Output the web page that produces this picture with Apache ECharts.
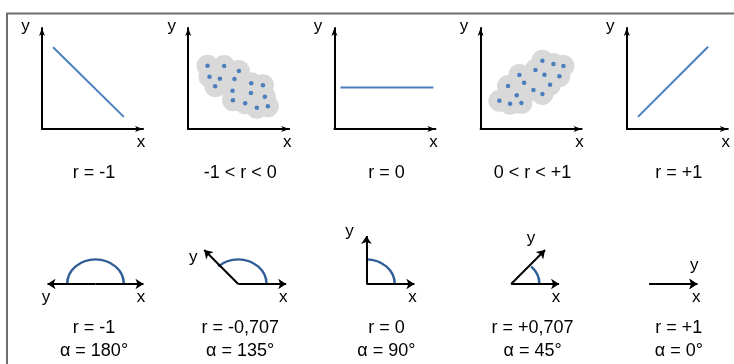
<!DOCTYPE html>
<html><head><meta charset="utf-8">
<script src="https://cdn.jsdelivr.net/npm/echarts@6/dist/echarts.min.js"></script>
<style>html,body{margin:0;padding:0;background:#fff}#c{width:734px;height:364px}</style>
</head><body><div id="c"></div>
<script>
// ---------- data ----------
// top row: scatter diagrams (x,y in 0..10 units)
const topCaptions = ['r = -1', '-1 < r < 0', 'r = 0', '0 < r < +1', 'r = +1'];
const lineNeg  = [[1.1, 8.1], [8.1, 1.2]];
const lineZero = [[0.6, 4.1], [9.8, 4.1]];
const linePos  = [[1.1, 1.2], [8.05, 8.15]];
const cloudNeg = [[1.91,6.27],[3.56,6.24],[5.02,5.74],[2.11,5.18],[3.14,4.98],[4.58,4.95],[6.24,4.52],[7.40,4.32],
                  [2.67,4.23],[4.39,3.79],[6.21,3.56],[7.59,3.20],[4.43,2.84],[5.64,2.54],[6.80,2.11],[7.89,2.25]];
const cloudPos = [[6.12,6.76],[7.21,6.44],[8.20,6.24],[5.43,5.84],[6.32,5.38],[7.80,5.22],[3.84,5.35],[4.31,4.59],
                  [6.88,4.39],[2.72,4.26],[5.23,3.86],[6.12,3.47],[3.58,3.34],[1.86,2.80],[2.92,2.50],[4.04,2.57]];
// bottom row: vector diagrams
const angles = [180, 135, 90, 45, 0];
const rLabels = ['r = -1', 'r = -0,707', 'r = 0', 'r = +0,707', 'r = +1'];
const alphaLabels = ['α = 180°', 'α = 135°', 'α = 90°', 'α = 45°', 'α = 0°'];
const axisNames = ['x', 'y'];
const arcRadius = 0.59;

// ---------- layout / style ----------
const FONT = '"Liberation Sans", Arial, sans-serif';
const BLUE = '#4a7ebf';
const ARC = '#2f5e96';
const GRAY = '#d9d9d9';
const CLOUD_R = 11;
const centers = [0,1,2,3,4].map(i => 94 + i * 146.2);
const vOff = [1.5, -2, -20, -21.5, -29.5];          // vertex offset from caption centre
const botLbl = [ // [x-label dx, y-label dx, y-label y]
  [45.5, -49.5, 297.4], [45, -45, 257], [46, -17, 231], [45, 20, 238], [47, 45, 265.5]];
const UNIT = 48, VY = 284;

const grids = [], xAxes = [], yAxes = [], series = [], graphic = [];
const axLine = {show: true, symbol: ['none', 'arrow'], symbolSize: [4.5, 8], lineStyle: {color: '#000', width: 2}};
const hidden = {axisLine:{show:false}, axisTick:{show:false}, axisLabel:{show:false}, splitLine:{show:false}};

// top grids
centers.forEach((c, i) => {
  const left = c - 52;
  grids.push({left: left, top: 28, width: 101, height: 101});
  xAxes.push({gridIndex: i, type: 'value', min: 0, max: 10, axisLine: axLine, axisTick:{show:false}, axisLabel:{show:false}, splitLine:{show:false}});
  yAxes.push({gridIndex: i, type: 'value', min: 0, max: 10, axisLine: axLine, axisTick:{show:false}, axisLabel:{show:false}, splitLine:{show:false}});
  graphic.push({type:'text', x: left + 99, y: 142, style:{text: axisNames[0], font: '17px ' + FONT, fill:'#000', align:'center', verticalAlign:'middle'}});
  graphic.push({type:'text', x: left - 16.5, y: 26.6, style:{text: axisNames[1], font: '17px ' + FONT, fill:'#000', align:'center', verticalAlign:'middle'}});
  graphic.push({type:'text', x: c, y: 172.8, style:{text: topCaptions[i], font: '18px ' + FONT, fill:'#000', align:'center', verticalAlign:'middle'}});
});
const lineSeries = (data, idx) => ({type:'line', xAxisIndex: idx, yAxisIndex: idx, data: data, symbol:'none', silent:true,
  lineStyle:{color: BLUE, width: 2}});
series.push(lineSeries(lineNeg, 0), lineSeries(lineZero, 2), lineSeries(linePos, 4));
[[cloudNeg, 1], [cloudPos, 3]].forEach(([d, idx]) => {
  // grey cloud: union of circles around the points, drawn as one path
  series.push({type:'custom', coordinateSystem:'cartesian2d', xAxisIndex: idx, yAxisIndex: idx, silent:true, z: 1,
    data: [[d[0][0], d[0][1]]],
    renderItem: (params, api) => {
      let p = '', x0 = 1e9, y0 = 1e9, x1 = -1e9, y1 = -1e9;
      const R = CLOUD_R;
      d.forEach(v => {
        const c = api.coord(v);
        p += 'M' + (c[0] + R) + ' ' + c[1] + ' A' + R + ' ' + R + ' 0 1 0 ' + (c[0] - R) + ' ' + c[1] +
             ' A' + R + ' ' + R + ' 0 1 0 ' + (c[0] + R) + ' ' + c[1] + ' Z ';
        x0 = Math.min(x0, c[0] - R); y0 = Math.min(y0, c[1] - R);
        x1 = Math.max(x1, c[0] + R); y1 = Math.max(y1, c[1] + R);
      });
      return {type:'path', shape:{pathData: p, x: x0, y: y0, width: x1 - x0, height: y1 - y0, layout:'cover'},
        style:{fill: GRAY, stroke: null}};
    }});
  series.push({type:'scatter', xAxisIndex: idx, yAxisIndex: idx, data: d, symbolSize: 4.5, z: 3, silent:true,
    itemStyle:{color: BLUE, opacity: 1, borderWidth: 0}});
});

// bottom grids
angles.forEach((a, k) => {
  const i = 5 + k;
  const vx = centers[k] + vOff[k];
  grids.push({left: vx - UNIT, top: VY - UNIT, width: 2 * UNIT, height: 2 * UNIT});
  xAxes.push(Object.assign({gridIndex: i, type:'value', min: -1, max: 1}, hidden));
  yAxes.push(Object.assign({gridIndex: i, type:'value', min: -1, max: 1}, hidden));
  const rad = a * Math.PI / 180;
  series.push({type:'custom', coordinateSystem:'cartesian2d', xAxisIndex: i, yAxisIndex: i, silent:true, z: 2,
    data: [[0, 0, a]],
    renderItem: (params, api) => {
      const c = api.coord([0, 0]);
      const r = api.size([arcRadius, 0])[0];
      const ang = api.value(2) * Math.PI / 180;
      if (ang === 0) return null;
      return {type:'arc', x: c[0], y: c[1], scaleY: 0.87,
        shape:{cx: 0, cy: 0, r: r, startAngle: -ang, endAngle: 0, clockwise: true},
        style:{fill: null, stroke: ARC, lineWidth: 2.5, strokeNoScale: true}};
    }});
  series.push({type:'lines', coordinateSystem:'cartesian2d', xAxisIndex: i, yAxisIndex: i, silent:true, z: 3,
    symbol:['none','arrow'], symbolSize:[4.5, 8],
    lineStyle:{color:'#000', width: 2, opacity: 1, curveness: 0},
    data: [{coords: [[0, 0], [1, 0]]}, {coords: [[0, 0], [Math.cos(rad), Math.sin(rad)]]}]});
  graphic.push({type:'text', x: vx + botLbl[k][0], y: 297.4, style:{text: axisNames[0], font: '17px ' + FONT, fill:'#000', align:'center', verticalAlign:'middle'}});
  graphic.push({type:'text', x: vx + botLbl[k][1], y: botLbl[k][2], style:{text: axisNames[1], font: '17px ' + FONT, fill:'#000', align:'center', verticalAlign:'middle'}});
  graphic.push({type:'text', x: centers[k], y: 327.8, style:{text: rLabels[k], font: '18px ' + FONT, fill:'#000', align:'center', verticalAlign:'middle'}});
  graphic.push({type:'text', x: centers[k], y: 350.8, style:{text: alphaLabels[k], font: '18px ' + FONT, fill:'#000', align:'center', verticalAlign:'middle'}});
});

// frame
graphic.push({type:'rect', shape:{x: 7, y: 13.5, width: 800, height: 400}, style:{fill: null, stroke:'#6d6d6d', lineWidth: 2}, z: -1});

const chart = echarts.init(document.getElementById('c'), null, {renderer:'canvas'});
chart.setOption({animation:false, backgroundColor:'#fff', grid: grids, xAxis: xAxes, yAxis: yAxes, series: series, graphic: graphic});
</script></body></html>
